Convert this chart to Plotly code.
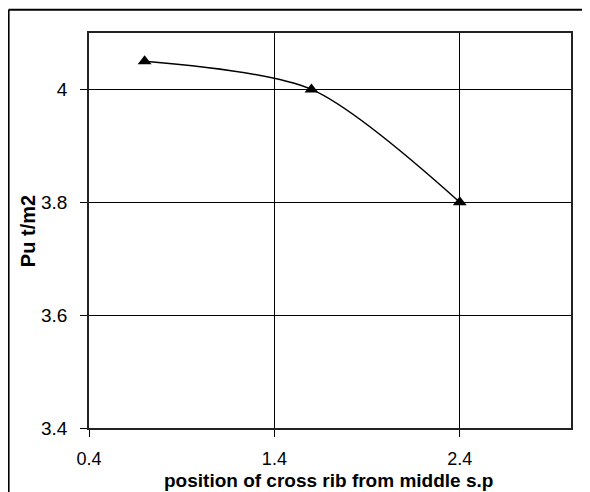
import plotly.graph_objects as go

x_pos = [0.7, 1.6, 2.4]
pu = [4.05, 4.0, 3.8]
x_ticks = [0.4, 1.4, 2.4]
y_ticks = [3.4, 3.6, 3.8, 4.0]
y_tick_text = ["3.4", "3.6", "3.8", "4"]
x_title = "position of cross rib from middle s.p"
y_title = "Pu t/m2"

# page body margin offsets the figure by 8px in the screenshot
OFF = 8
W, H = 590 - OFF, 492 - OFF
L, R, T, B = 89.3 - OFF, 570.7 - OFF, 33.3 - OFF, 427.7 - OFF
pw, ph = R - L, B - T

def px(xs):
    return (xs - OFF - L) / pw

def py(ys):
    return (B - (ys - OFF)) / ph

fig = go.Figure()
fig.add_trace(go.Scatter(
    x=x_pos, y=pu, mode="lines+markers",
    line=dict(color="black", width=1.5, shape="spline", smoothing=0.8),
    marker=dict(symbol="triangle-up", size=12, color="black"),
    showlegend=False,
))

font = "Liberation Sans, Arial, sans-serif"
fig.update_layout(
    width=W, height=H,
    margin=dict(l=L, r=W - R, t=T, b=H - B, pad=0),
    paper_bgcolor="white", plot_bgcolor="white",
    font=dict(family=font, size=19, color="black"),
    xaxis=dict(
        range=[0.4, 3.0], tickvals=x_ticks, ticktext=[str(v) for v in x_ticks],
        showgrid=True, gridcolor="black", gridwidth=1,
        showline=True, linecolor="#222", linewidth=1.5, mirror=True,
        ticks="outside", ticklen=7, tickcolor="black", zeroline=False,
        tickfont=dict(size=18), ticklabelstandoff=7,
    ),
    yaxis=dict(
        range=[3.4, 4.1], tickvals=y_ticks, ticktext=y_tick_text,
        showgrid=True, gridcolor="black", gridwidth=1,
        showline=True, linecolor="#222", linewidth=1.5, mirror=True,
        ticks="outside", ticklen=7, tickcolor="black", zeroline=False,
        tickfont=dict(size=19), ticklabelstandoff=9,
    ),
    annotations=[
        dict(text="<b>" + x_title + "</b>", xref="paper", yref="paper",
             x=px(328.5), y=py(480.5), xanchor="center", yanchor="middle",
             showarrow=False, font=dict(size=19), borderpad=0),
        dict(text="<b>" + y_title + "</b>", xref="paper", yref="paper",
             x=px(28.5), y=py(231), xanchor="center", yanchor="middle",
             textangle=-90, showarrow=False, font=dict(size=20), borderpad=0),
    ],
    shapes=[
        dict(type="line", xref="paper", yref="paper",
             x0=px(9), y0=py(10), x1=px(9), y1=py(500),
             line=dict(color="black", width=2)),
        dict(type="line", xref="paper", yref="paper",
             x0=px(9), y0=py(10), x1=px(600), y1=py(10),
             line=dict(color="black", width=2)),
    ],
)

fig.write_html("out.html")
